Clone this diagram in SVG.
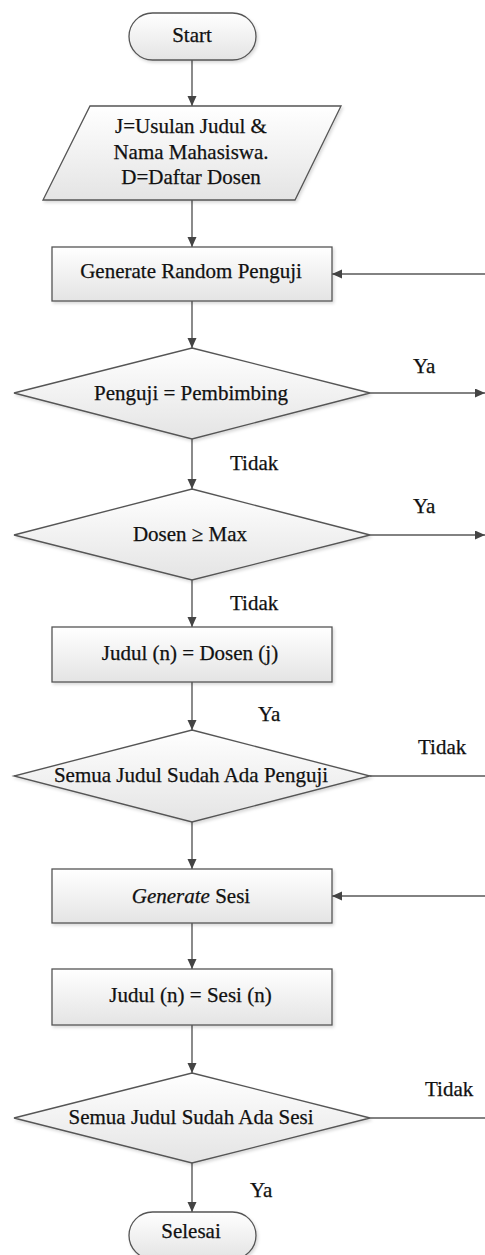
<svg xmlns="http://www.w3.org/2000/svg" width="485" height="1255" viewBox="0 0 485 1255">
<style>
.shape{fill:url(#g);stroke:#555;stroke-width:1.3;filter:url(#sh)}
.t{font-family:"Liberation Serif","Times New Roman",serif;font-size:21px;fill:#111;stroke:#111;stroke-width:0.25}
.c{text-anchor:middle}
.ln{stroke:#595959;stroke-width:1.4;fill:none}
.ar{marker-end:url(#ah)}
</style>
<defs>
<linearGradient id="g" x1="0" y1="0" x2="0" y2="1">
<stop offset="0" stop-color="#ffffff"/>
<stop offset="1" stop-color="#e4e4e4"/>
</linearGradient>
<filter id="sh" x="-10%" y="-10%" width="125%" height="130%">
<feDropShadow dx="1.5" dy="2" stdDeviation="1.5" flood-color="#000" flood-opacity="0.15"/>
</filter>
<marker id="ah" markerUnits="userSpaceOnUse" markerWidth="12" markerHeight="10" refX="10" refY="4.5" orient="auto">
<path d="M0,0 L10,4.5 L0,9 Z" fill="#444"/>
</marker>
</defs>
<rect width="485" height="1255" fill="#fff"/>
<g id="connectors">
<line class="ln ar" x1="192" y1="60" x2="192" y2="106"/>
<line class="ln ar" x1="192" y1="200" x2="192" y2="247"/>
<line class="ln ar" x1="192" y1="301" x2="192" y2="348"/>
<line class="ln ar" x1="192" y1="439" x2="192" y2="489"/>
<line class="ln ar" x1="192" y1="580" x2="192" y2="627"/>
<line class="ln ar" x1="192" y1="682" x2="192" y2="730"/>
<line class="ln ar" x1="192" y1="822" x2="192" y2="869"/>
<line class="ln ar" x1="192" y1="923" x2="192" y2="969"/>
<line class="ln ar" x1="192" y1="1025" x2="192" y2="1073"/>
<line class="ln ar" x1="192" y1="1163" x2="192" y2="1212"/>
<line class="ln ar" x1="370" y1="393" x2="485" y2="393"/>
<line class="ln ar" x1="370" y1="535" x2="485" y2="535"/>
<line class="ln" x1="370" y1="776" x2="485" y2="776"/>
<line class="ln" x1="370" y1="1118" x2="485" y2="1118"/>
<line class="ln ar" x1="485" y1="274" x2="332" y2="274"/>
<line class="ln ar" x1="485" y1="896" x2="332" y2="896"/>
<text class="t" x="413" y="373">Ya</text>
<text class="t" x="230" y="470">Tidak</text>
<text class="t" x="413" y="513">Ya</text>
<text class="t" x="230" y="610">Tidak</text>
<text class="t" x="258" y="721">Ya</text>
<text class="t" x="418" y="754">Tidak</text>
<text class="t" x="425" y="1096">Tidak</text>
<text class="t" x="250" y="1197">Ya</text>
</g>
<g id="start">
<rect class="shape" x="129" y="13" width="127" height="47" rx="23.5"/>
<text class="t c" x="192" y="42">Start</text>
</g>
<g id="input">
<polygon class="shape" points="90,106 341,106 295,200 43,200"/>
<text class="t c" x="191" y="133">J=Usulan Judul &amp;</text>
<text class="t c" x="191" y="158.5">Nama Mahasiswa.</text>
<text class="t c" x="191" y="184">D=Daftar Dosen</text>
</g>
<g id="gen-penguji">
<rect class="shape" x="52" y="247" width="280" height="54"/>
<text class="t c" x="191" y="278">Generate Random Penguji</text>
</g>
<g id="dec-pembimbing">
<polygon class="shape" points="192,348 370,393 192,439 14,393"/>
<text class="t c" x="191" y="400">Penguji = Pembimbing</text>
</g>
<g id="dec-max">
<polygon class="shape" points="192,489 370,535 192,580 14,535"/>
<text class="t c" x="190" y="541">Dosen ≥ Max</text>
</g>
<g id="assign-dosen">
<rect class="shape" x="52" y="627" width="280" height="55"/>
<text class="t c" x="190" y="660">Judul (n) = Dosen (j)</text>
</g>
<g id="dec-penguji-all">
<polygon class="shape" points="192,730 370,776 192,822 14,776"/>
<text class="t c" x="191" y="782">Semua Judul Sudah Ada Penguji</text>
</g>
<g id="gen-sesi">
<rect class="shape" x="52" y="869" width="280" height="54"/>
<text class="t c" x="191" y="903"><tspan font-style="italic">Generate</tspan> Sesi</text>
</g>
<g id="assign-sesi">
<rect class="shape" x="52" y="969" width="280" height="56"/>
<text class="t c" x="190.5" y="1002">Judul (n) = Sesi (n)</text>
</g>
<g id="dec-sesi-all">
<polygon class="shape" points="192,1073 370,1118 192,1163 14,1118"/>
<text class="t c" x="191" y="1124">Semua Judul Sudah Ada Sesi</text>
</g>
<g id="selesai">
<rect class="shape" x="129" y="1212" width="127" height="47" rx="23.5"/>
<text class="t c" x="191" y="1238">Selesai</text>
</g>
</svg>
